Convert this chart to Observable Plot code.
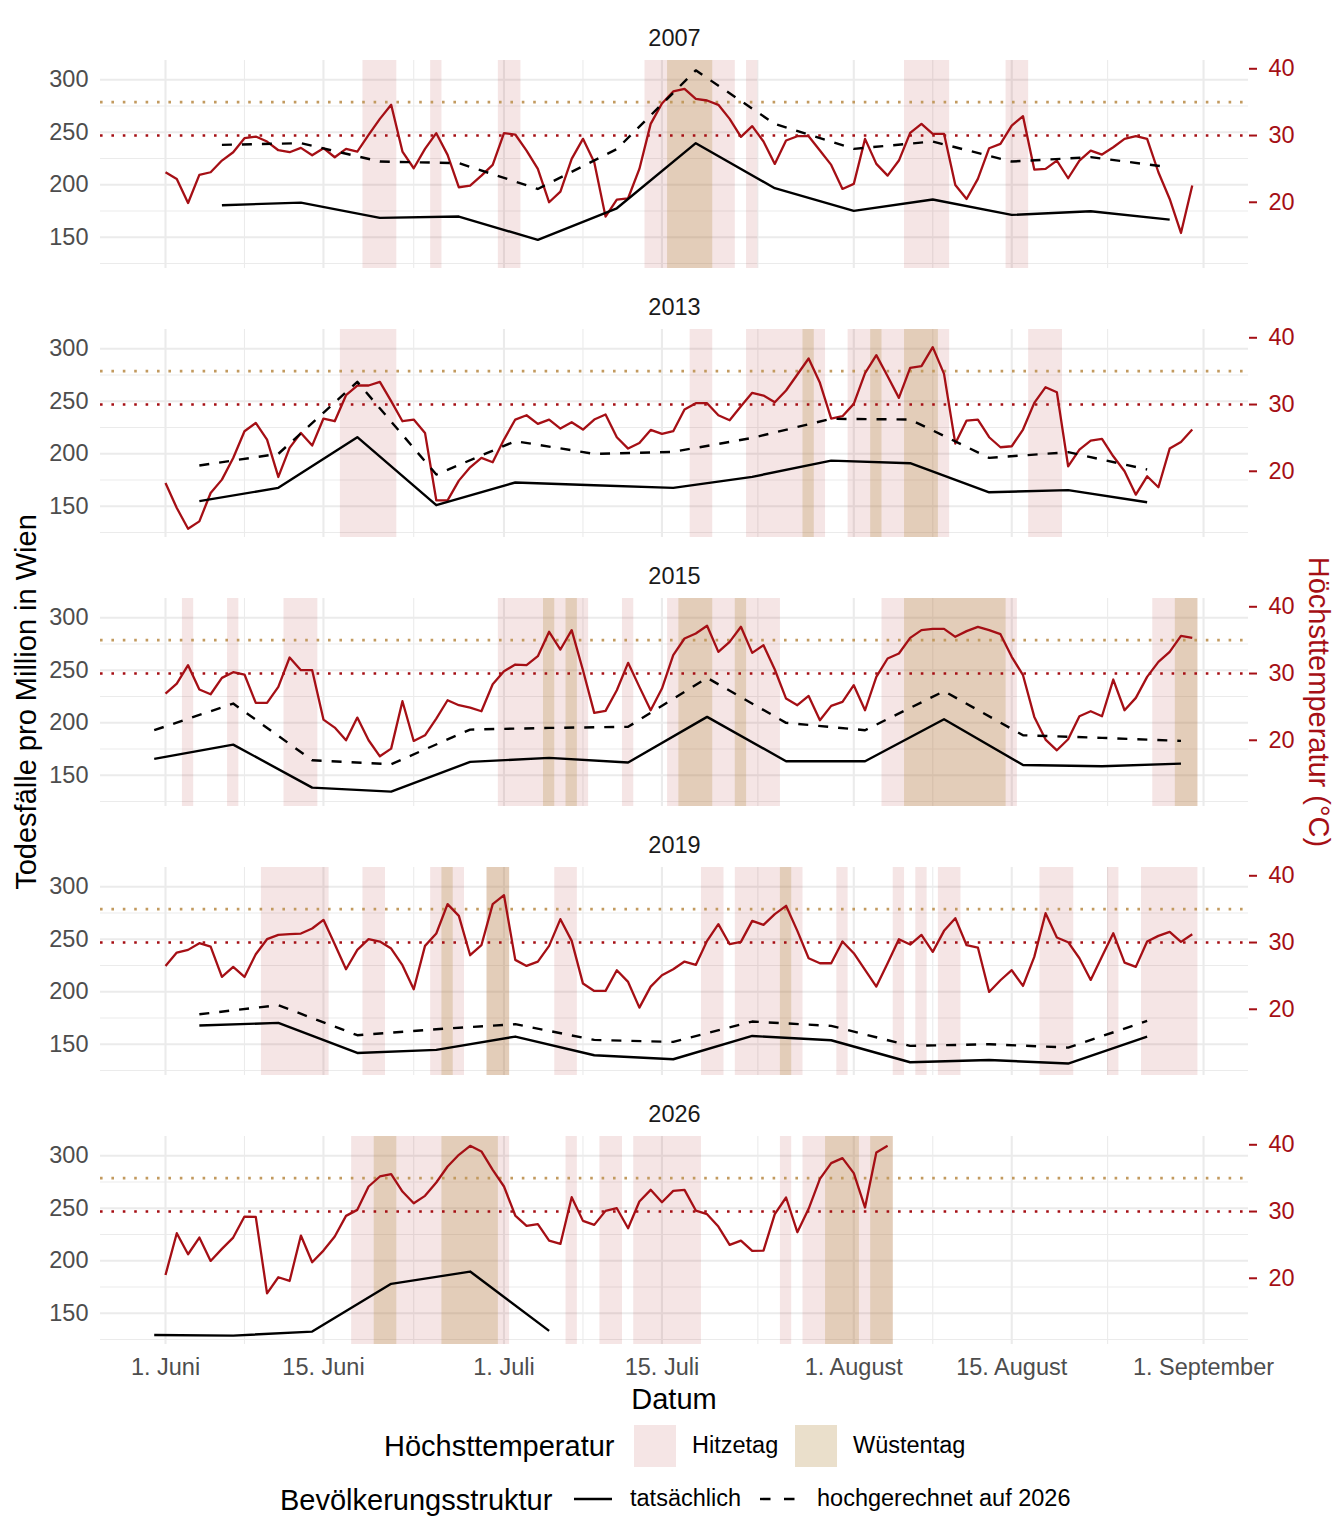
<!DOCTYPE html>
<html><head><meta charset="utf-8">
<script src="https://cdn.jsdelivr.net/npm/d3@7"></script>
<script src="https://cdn.jsdelivr.net/npm/@observablehq/plot@0.6"></script>
<style>
body{margin:0;background:#fff;font-family:"Liberation Sans",Arial,Helvetica,sans-serif;overflow:hidden;}
#wrap{position:relative;width:1344px;height:1536px;background:#fff;}
#wrap > svg{position:absolute;left:0;top:0;}
.t{position:absolute;white-space:nowrap;line-height:1;}
</style></head><body><div id="wrap"></div>
<script>
// ---------- DATA ----------
const years = [2007, 2013, 2015, 2019, 2026];

// daily maximum temperature (°C), starting 1 June
const temp2007 = [24.5,23.5,19.9,24.1,24.5,26.25,27.5,29.6,29.85,29.1,27.8,27.5,28.15,27.05,28.1,26.75,28,27.6,30.1,32.5,34.6,27.6,25.1,28,30.35,27.1,22.25,22.5,24,25.6,30.35,30.15,27.75,25,20,21.6,26.5,29.5,26,17.85,20.4,20.6,25,31.75,34.8,36.6,37,35.5,35.25,34.6,32.5,29.8,31.4,29.1,25.75,29.25,29.9,29.9,27.75,25.6,22,22.75,29.5,25.75,24,26.25,30.4,31.75,30.25,30.25,22.6,20.5,23.5,28.1,28.75,31.5,32.9,24.9,25,26.25,23.6,26.25,27.75,27.15,28.25,29.5,29.9,29.5,24.5,20.5,15.4,22.5];
const temp2013 = [18.25,14.5,11.4,12.5,16.75,18.75,22,26,27.25,24.75,19.15,23.5,25.75,23.85,27.9,27.5,31.4,32.85,32.85,33.4,30.5,27.5,27.75,25.75,15.65,15.65,18.6,20.6,22,21.35,24.75,27.75,28.4,27.1,27.75,26.4,27.35,26.25,27.75,28.5,25.1,23.4,24.25,26.2,25.6,26,29.25,30.2,30.2,28.4,27.65,29.75,31.75,31.35,30.35,32.1,34.5,36.9,33.25,27.9,28.25,30.1,34.7,37.4,34.25,31,35.5,35.75,38.6,34.6,24.15,27.6,27.75,25.1,23.6,23.75,26.25,30.25,32.6,31.85,20.75,23.25,24.6,24.85,22.25,20,16.5,19.25,17.6,23.4,24.4,26.25];
const temp2015 = [27,28.5,31.25,27.6,26.9,29.35,30.2,29.85,25.6,25.6,28,32.4,30.5,30.5,23.1,21.9,20,23.4,20,17.6,18.75,25.85,19.9,20.75,23.25,26,25.25,24.9,24.35,28.4,30.35,31.35,31.25,32.6,36.25,33.6,36.5,30.5,24.1,24.4,27.5,31.6,28,24.5,27.75,32.75,35.25,36,37.15,33.25,34.75,37,33.1,34.25,30.6,26.25,25.25,26.65,23,25.15,25.75,28.25,24.5,29.5,32.25,33,35.35,36.5,36.7,36.7,35.5,36.35,37,36.5,35.9,32.5,29.75,23.5,20.1,18.5,20.15,23.6,24.35,23.6,29.1,24.5,26.35,29.5,31.75,33.25,35.65,35.35];
const temp2019 = [26.5,28.5,28.9,29.9,29.4,24.85,26.35,24.85,28.25,30.5,31.15,31.25,31.35,32.1,33.4,29.75,26,28.9,30.5,30.15,29.1,26.6,23,29.5,31.35,35.75,34,28.1,29.6,35.75,37.1,27.4,26.5,27.15,29.5,33.5,30.25,23.85,22.75,22.75,25.85,24.1,20.25,23.4,25.1,26,27.15,26.65,30.25,32.75,29.75,30.1,33.25,32.65,34.25,35.5,31.75,27.65,26.9,26.9,30.15,28.4,25.9,23.4,26.9,30.5,29.7,31.15,28.6,31.75,33.65,29.6,29.25,22.6,24.35,25.85,23.5,27.85,34.4,30.75,30.05,27.65,24.4,27.9,31.4,27,26.35,30.15,31,31.6,30.1,31.25];
const temp2026 = [20.5,26.75,23.6,26.1,22.6,24.4,26.1,29.25,29.2,17.75,20.15,19.6,26.4,22.4,24.15,26.25,29.35,30.25,33.75,35.25,35.6,33,31.25,32.35,34.35,36.75,38.5,39.85,39,36.25,33.75,29.4,27.85,28.1,25.65,25.15,32.15,28.6,28,30.1,30.5,27.5,31.5,33.25,31.4,33.1,33.25,30.15,29.6,27.75,25,25.65,24.1,24.15,29.6,32.1,26.9,30.4,34.9,37.25,38,35.75,30.6,38.85,39.85];

// weekly deaths per million (first week date, then weekly)
const firstWeek = ["2007-06-06", "2013-06-04", "2015-05-31", "2019-06-04", "2026-05-31"];
const actual2007 = [180.5,183,168.4,169.7,147.5,177.6,239.6,196.7,175.1,185.9,171.3,174.8,166.8];
const projected2007 = [238,239.6,222.1,220.6,196,234,309,258,234.2,241.2,222.1,226.3,216.7];
const actual2013 = [154.8,167.5,215.8,151,172.6,170,167.5,178,193.5,191,163.3,165.3,153.8];
const projected2013 = [188.8,199.9,268.5,180.2,212,199.9,201.8,215.1,233.3,232.6,196.1,201.5,185];
const actual2015 = [165.6,179.2,138.2,134.4,162.7,166.5,162.1,205.6,163.3,163.3,203.4,159.8,158.6,161.1];
const projected2015 = [192.9,218.3,164.3,160.5,193.5,195.1,196.1,242.8,199.9,192.9,230.1,188.1,185.6,182.7];
const actual2019 = [167.8,170.3,141.7,144.6,157.3,139.5,135.7,157.9,153.8,132.8,135,131.6,157.3];
const projected2019 = [178.6,187.2,158.6,164.3,169.1,154.1,152.2,171.6,167.5,148.4,150,146.8,172.2];
const actual2026 = [129.3,128.7,132.5,178,189.7,133.2];

// axes
const xTickDates = ["06-01", "06-15", "07-01", "07-15", "08-01", "08-15", "09-01"];
const xTickLabels = ["1. Juni", "15. Juni", "1. Juli", "15. Juli", "1. August", "15. August", "1. September"];
const yTicks = [150, 200, 250, 300];
const yMinorTicks = [125, 175, 225, 275];
const tempTicks = [20, 30, 40];
const hitzeThreshold = 30;
const wuesteThreshold = 35;

// ---------- BUILD ----------
const red = "#A50F15";
const tan = "#C29A5F";
const DAY = 864e5;
const BASE = 2001;
const TEMP_SCALE = 6.36, TEMP_OFFSET = 56.1;   // secondary-axis transform
const toY = t => TEMP_OFFSET + TEMP_SCALE * t;
const fromY = v => (v - TEMP_OFFSET) / TEMP_SCALE;
const june1 = Date.UTC(BASE, 5, 1);
const dayMs = i => june1 + i * DAY;
const mdDate = md => { const [m, d] = md.split("-").map(Number); return new Date(Date.UTC(BASE, m - 1, d)); };
const isoBase = iso => mdDate(iso.slice(5));

const temps = [temp2007, temp2013, temp2015, temp2019, temp2026];
const actuals = [actual2007, actual2013, actual2015, actual2019, actual2026];
const projecteds = [projected2007, projected2013, projected2015, projected2019, null];

const tempRows = [], actualRows = [], projRows = [], hitzeRuns = [], wuesteRuns = [];
function runs(year, arr, thr, out) {
  let s = null;
  arr.forEach((t, i) => {
    if (t >= thr) { if (s === null) s = i; }
    else if (s !== null) { out.push({year, x1: new Date(dayMs(s) - DAY / 2), x2: new Date(dayMs(i - 1) + DAY / 2)}); s = null; }
  });
  if (s !== null) out.push({year, x1: new Date(dayMs(s) - DAY / 2), x2: new Date(dayMs(arr.length - 1) + DAY / 2)});
}
years.forEach((year, k) => {
  temps[k].forEach((t, i) => tempRows.push({year, date: new Date(dayMs(i)), v: toY(t)}));
  runs(year, temps[k], hitzeThreshold, hitzeRuns);
  runs(year, temps[k], wuesteThreshold, wuesteRuns);
  const w0 = +isoBase(firstWeek[k]);
  actuals[k].forEach((v, j) => actualRows.push({year, date: new Date(w0 + 7 * j * DAY), v}));
  if (projecteds[k]) projecteds[k].forEach((v, j) => projRows.push({year, date: new Date(w0 + 7 * j * DAY), v}));
});

const majorX = xTickDates.map(mdDate);
const minorX = majorX.slice(1).map((d, i) => new Date((+d + +majorX[i]) / 2));
const labelMap = new Map(majorX.map((d, i) => [+d, xTickLabels[i]]));
const yDomain = [120.2, 318.4];
const xDomain = [new Date(june1 - 5.761 * DAY), new Date(june1 + 95.985 * DAY)];
const grid = "#EBEBEB";

const chart = Plot.plot({
  width: 1344, height: 1385,
  marginLeft: 100, marginRight: 96, marginTop: 60, marginBottom: 41,
  style: {fontFamily: '"Liberation Sans", Arial, sans-serif', background: "white", overflow: "visible"},
  x: {type: "utc", domain: xDomain},
  y: {domain: yDomain},
  fy: {domain: years, axis: null, paddingInner: 61 / 269, paddingOuter: 0, round: false},
  marks: [
    Plot.gridX(minorX, {stroke: grid, strokeOpacity: 1, strokeWidth: 1.1}),
    Plot.gridY(yMinorTicks, {stroke: grid, strokeOpacity: 1, strokeWidth: 1.1}),
    Plot.gridX(majorX, {stroke: grid, strokeOpacity: 1, strokeWidth: 2.1}),
    Plot.gridY(yTicks, {stroke: grid, strokeOpacity: 1, strokeWidth: 2.1}),
    Plot.rect(hitzeRuns, {x1: "x1", x2: "x2", y1: yDomain[0], y2: yDomain[1], fy: "year", fill: red, fillOpacity: 0.11}),
    Plot.rect(wuesteRuns, {x1: "x1", x2: "x2", y1: yDomain[0], y2: yDomain[1], fy: "year", fill: "#B99452", fillOpacity: 0.3}),
    Plot.ruleY([toY(hitzeThreshold)], {stroke: red, strokeWidth: 2.6, strokeDasharray: "2.6,8.8"}),
    Plot.ruleY([toY(wuesteThreshold)], {stroke: tan, strokeWidth: 2.6, strokeDasharray: "2.6,8.8"}),
    Plot.line(tempRows, {x: "date", y: "v", fy: "year", stroke: red, strokeWidth: 2.3, strokeLinecap: "butt"}),
    Plot.line(actualRows, {x: "date", y: "v", fy: "year", stroke: "black", strokeWidth: 2.4, strokeLinecap: "butt"}),
    Plot.line(projRows, {x: "date", y: "v", fy: "year", stroke: "black", strokeWidth: 2.4, strokeDasharray: "10,10", strokeLinecap: "butt"}),
    Plot.axisY(yTicks, {anchor: "left", tickSize: 0, tickPadding: 12, fontSize: 23.5, fill: "#4D4D4D", label: null}),
    Plot.axisY(tempTicks.map(toY), {anchor: "right", tickSize: 8, tickPadding: 12, strokeWidth: 2, color: red, fontSize: 23.5, label: null, tickFormat: v => String(Math.round(fromY(v)))}),
    Plot.axisX(majorX, {anchor: "bottom", tickSize: 0, tickPadding: 14, fontSize: 23.5, fill: "#4D4D4D", label: null, tickFormat: d => labelMap.get(+d)}),
    Plot.text(years, {fy: d => d, text: d => String(d), frameAnchor: "top", dy: -22, fontSize: 23.5, fill: "#1A1A1A", lineAnchor: "middle"})
  ]
});

const wrap = document.getElementById("wrap");
wrap.appendChild(chart);

function addText(txt, css) {
  const el = document.createElement("div");
  el.className = "t";
  el.textContent = txt;
  Object.assign(el.style, css);
  wrap.appendChild(el);
  return el;
}
// axis titles
addText("Todesfälle pro Million in Wien", {left: "26px", top: "702px", fontSize: "29px", color: "#000", transform: "translate(-50%,-50%) rotate(-90deg)"});
addText("Höchsttemperatur (°C)", {left: "1318px", top: "702px", fontSize: "29px", color: red, transform: "translate(-50%,-50%) rotate(90deg)"});
addText("Datum", {left: "674px", top: "1399px", fontSize: "29px", color: "#000", transform: "translate(-50%,-50%)"});

// legend row 1
addText("Höchsttemperatur", {left: "384px", top: "1446px", fontSize: "29px", color: "#000", transform: "translateY(-50%)"});
const sw1 = document.createElement("div");
Object.assign(sw1.style, {position: "absolute", left: "634px", top: "1425px", width: "42px", height: "42px", background: "rgba(165,15,21,0.11)"});
wrap.appendChild(sw1);
addText("Hitzetag", {left: "692px", top: "1446px", fontSize: "23.5px", color: "#000", transform: "translateY(-50%)"});
const sw2 = document.createElement("div");
Object.assign(sw2.style, {position: "absolute", left: "795px", top: "1425px", width: "42px", height: "42px", background: "rgba(185,148,82,0.3)"});
wrap.appendChild(sw2);
addText("Wüstentag", {left: "853px", top: "1446px", fontSize: "23.5px", color: "#000", transform: "translateY(-50%)"});

// legend row 2
addText("Bevölkerungsstruktur", {left: "280px", top: "1500px", fontSize: "29px", color: "#000", transform: "translateY(-50%)"});
const ns = "http://www.w3.org/2000/svg";
const lk = document.createElementNS(ns, "svg");
lk.setAttribute("width", "260"); lk.setAttribute("height", "20");
Object.assign(lk.style, {position: "absolute", left: "560px", top: "1489px"});
const l1 = document.createElementNS(ns, "line");
l1.setAttribute("x1", "14"); l1.setAttribute("x2", "52"); l1.setAttribute("y1", "10"); l1.setAttribute("y2", "10");
l1.setAttribute("stroke", "black"); l1.setAttribute("stroke-width", "2.4");
const l2 = document.createElementNS(ns, "line");
l2.setAttribute("x1", "200"); l2.setAttribute("x2", "237"); l2.setAttribute("y1", "10"); l2.setAttribute("y2", "10");
l2.setAttribute("stroke", "black"); l2.setAttribute("stroke-width", "2.4"); l2.setAttribute("stroke-dasharray", "10.5,13.5");
lk.appendChild(l1); lk.appendChild(l2);
wrap.appendChild(lk);
addText("tatsächlich", {left: "630px", top: "1499px", fontSize: "23.5px", color: "#000", transform: "translateY(-50%)"});
addText("hochgerechnet auf 2026", {left: "817px", top: "1499px", fontSize: "23.5px", color: "#000", transform: "translateY(-50%)"});
</script>
</body></html>
